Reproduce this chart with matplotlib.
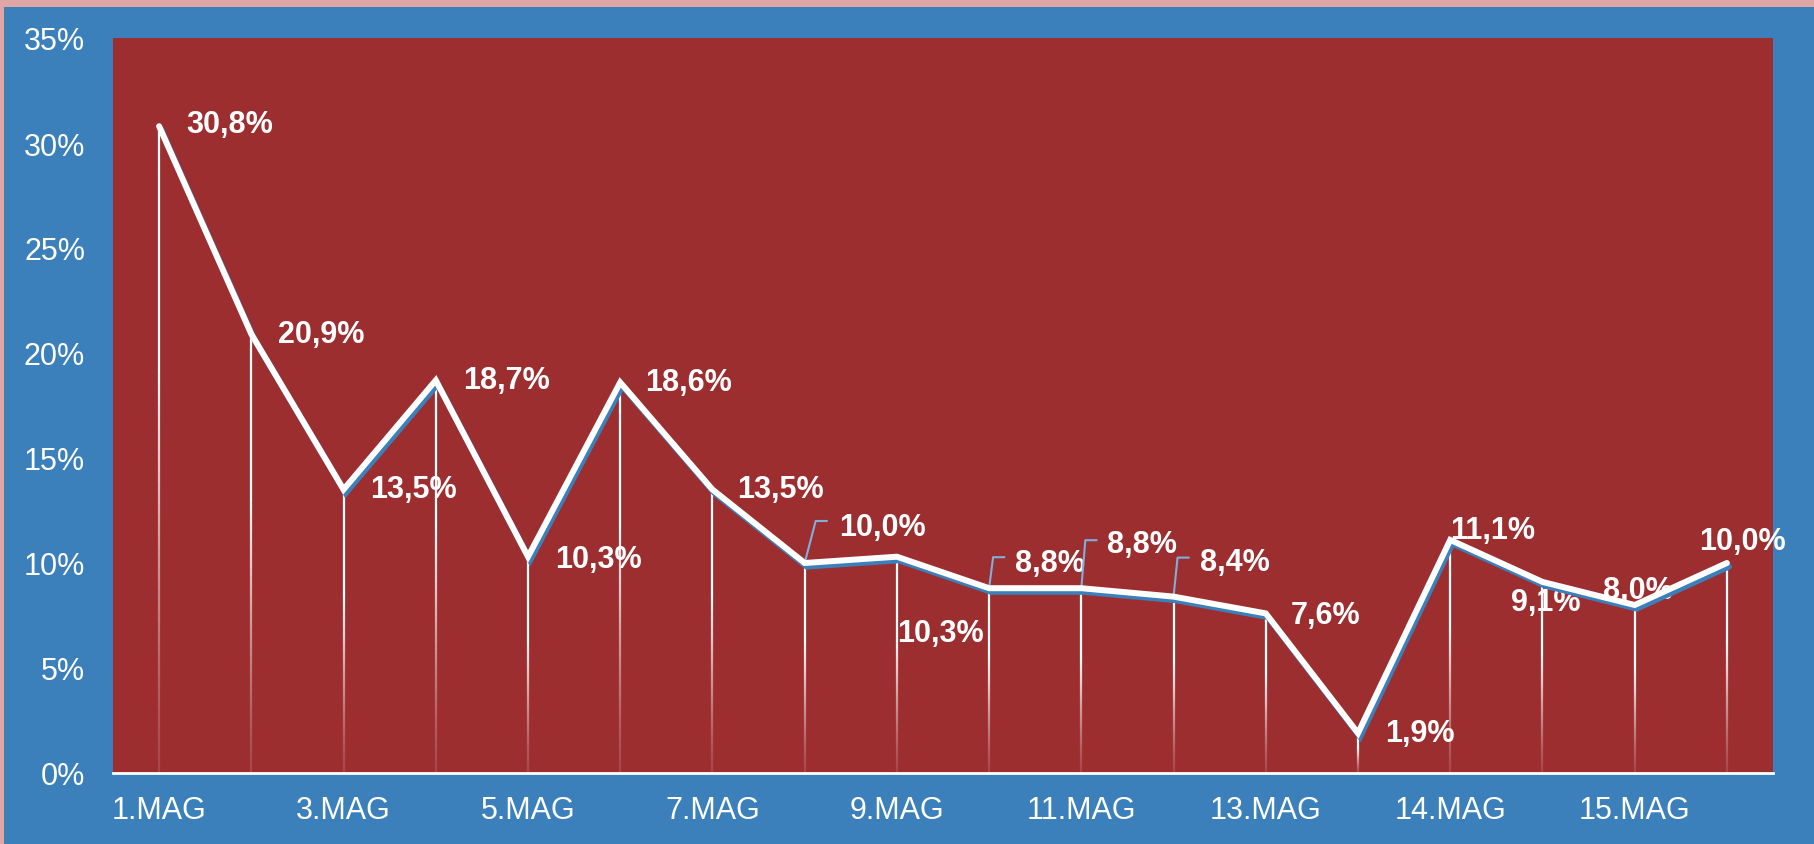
import numpy as np
import matplotlib
matplotlib.use("Agg")
import matplotlib.pyplot as plt
import matplotlib.patheffects as pe
from matplotlib.collections import LineCollection
from matplotlib.patches import Rectangle

# ---------------- data ----------------
categories = ["1.MAG", "2.MAG", "3.MAG", "4.MAG", "5.MAG", "6.MAG", "7.MAG",
              "8.MAG", "9.MAG", "10.MAG", "11.MAG", "12.MAG", "13.MAG",
              "13.MAG", "14.MAG", "14.MAG", "15.MAG", "15.MAG"]
values = [30.8, 20.9, 13.5, 18.7, 10.3, 18.6, 13.5, 10.0, 10.3,
          8.8, 8.8, 8.4, 7.6, 1.9, 11.1, 9.1, 8.0, 10.0]
value_labels = ["30,8%", "20,9%", "13,5%", "18,7%", "10,3%", "18,6%", "13,5%",
                "10,0%", "10,3%", "8,8%", "8,8%", "8,4%", "7,6%", "1,9%",
                "11,1%", "9,1%", "8,0%", "10,0%"]
y_ticks = [0, 5, 10, 15, 20, 25, 30, 35]
y_tick_labels = ["0%", "5%", "10%", "15%", "20%", "25%", "30%", "35%"]

# label offsets in pixels (dx to left edge, dy to vertical centre)
label_offsets = [(27, 2), (27, 0), (27, 0), (27, 0), (27, -2), (25, 0), (25, 0),
                 (34, 36), (0, -76), (26, 25), (26, 44), (26, 35), (25, -2),
                 (27, 0), (0, 10), (-31, -20), (-32, 15), (-28, 22)]
leader_idx = {7: (11, 42, 22), 9: (4, 31, 15), 10: (4, 48, 15), 11: (4, 39, 15)}

# ---------------- style ----------------
PINK = "#e0a5a5"
BLUE = "#3b80bb"
RED = "#9d2e30"
FONT = ["Liberation Sans", "DejaVu Sans"]
plt.rcParams["font.family"] = FONT

W, H = 1814, 845
fig = plt.figure(figsize=(W / 100, H / 100), dpi=100)
fig.patch.set_facecolor(PINK)
fig.add_artist(Rectangle((4 / W, 0), 1, 1 - 8 / H, transform=fig.transFigure,
                         facecolor=BLUE, edgecolor="none", zorder=0))

left, right, top, bottom = 113, 1773, 39, 774
ax = fig.add_axes([left / W, 1 - bottom / H, (right - left) / W, (bottom - top) / H])
ax.set_facecolor(RED)
ax.set_xlim(-0.5, len(values) - 0.5)
ax.set_ylim(0, 35)
for s in ["top", "right", "left"]:
    ax.spines[s].set_visible(False)
ax.spines["bottom"].set_color("white")
ax.spines["bottom"].set_linewidth(2)
ax.spines["bottom"].set_zorder(6)

ax.set_yticks(y_ticks)
ax.set_yticklabels(y_tick_labels)
xt = list(range(0, len(categories), 2))
ax.set_xticks(xt)
ax.set_xticklabels([categories[i] for i in xt])
ax.tick_params(axis="y", length=0, pad=20, labelsize=22, labelcolor="white")
ax.tick_params(axis="x", length=0, pad=16, labelsize=22, labelcolor="white")

x = np.arange(len(values))

# drop lines with gradient
nseg = 60
for xi, yi in zip(x, values):
    ys = np.linspace(0, yi, nseg + 1)
    segs = [[(xi, ys[k]), (xi, ys[k + 1])] for k in range(nseg)]
    frac = (np.arange(nseg) + 0.5) / nseg
    alphas = 0.12 + 0.88 * np.clip(frac * 1.6, 0, 1) ** 1.3
    cols = [(1, 1, 1, a) for a in alphas]
    lc = LineCollection(segs, colors=cols, linewidths=1.6, zorder=2,
                        capstyle="butt")
    ax.add_collection(lc)

# main line with blue shadow
ax.plot(x, values, color="white", lw=4.3, zorder=4, solid_joinstyle="miter",
        solid_capstyle="round",
        path_effects=[pe.SimpleLineShadow(offset=(1.5, -2.6), shadow_color=BLUE,
                                          alpha=1.0, rho=1.0),
                      pe.Normal()])

# data labels
for i, (xi, yi) in enumerate(zip(x, values)):
    dx, dy = label_offsets[i]
    ax.annotate(value_labels[i], (xi, yi), xytext=(dx, dy),
                textcoords="offset pixels", ha="left", va="center",
                fontsize=22, fontweight="bold", color="white", zorder=3)

# leader lines
fig.canvas.draw()
for i, (lx, ly, hx) in leader_idx.items():
    px, py = ax.transData.transform((x[i], values[i]))
    xs = [px, px + lx, px + hx]
    ys = [py, py + ly, py + ly]
    ax.add_line(plt.Line2D(xs, ys, transform=None, color="#7fb0da", lw=1.5,
                           zorder=3.5))

fig.savefig("out.png", dpi=100, facecolor=fig.get_facecolor())
